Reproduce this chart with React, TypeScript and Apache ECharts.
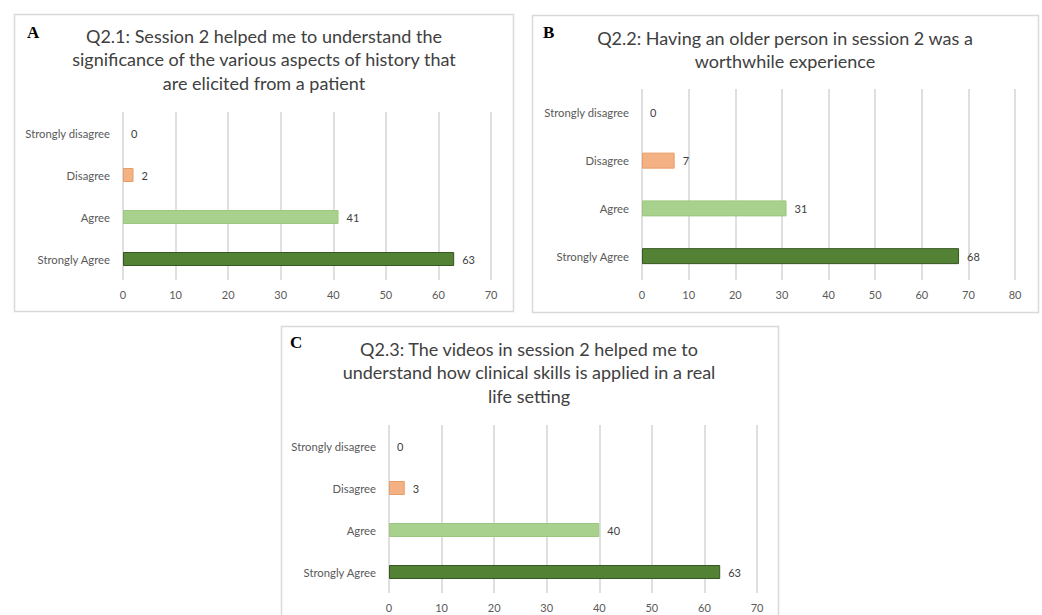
import React, { useEffect, useRef } from "react";
import * as echarts from "echarts";

// Response categories, listed bottom-to-top as drawn on the category axis
const categories = ["Strongly Agree", "Agree", "Disagree", "Strongly disagree"];

// Responses per question (same order as categories)
const q21Values = [63, 41, 2, 0];
const q22Values = [68, 31, 7, 0];
const q23Values = [63, 40, 3, 0];

// Axis maxima
const q21Max = 70;
const q22Max = 80;
const q23Max = 70;

const q21Title =
  "Q2.1: Session 2 helped me to understand the\nsignificance of the various aspects of history that\nare elicited from a patient";
const q22Title = "Q2.2: Having an older person in session 2 was a\nworthwhile experience";
const q23Title =
  "Q2.3: The videos in session 2 helped me to\nunderstand how clinical skills is applied in a real\nlife setting";

const panelLetters = ["A", "B", "C"];

// Fill / border per category (Strongly Agree, Agree, Disagree, Strongly disagree)
const barFills = ["#548235", "#a9d18e", "#f4b183", "#f4b183"];
const barBorders = ["#385723", "#9cc77f", "#e89c66", "#e89c66"];

const FONT = "Lato, 'Open Sans', sans-serif";
const GRID_COLOR = "#d4d4d4";
const LABEL_COLOR = "#595959";

type Panel = {
  values: number[];
  max: number;
  title: string;
  letter: string;
  box: { x: number; y: number; w: number; h: number };
  grid: { left: number; top: number; width: number; height: number };
  titleX: number;
  titleY: number;
  letterX: number;
  letterY: number;
  barWidth: number;
};

const panels: Panel[] = [
  {
    values: q21Values,
    max: q21Max,
    title: q21Title,
    letter: panelLetters[0],
    box: { x: 14.5, y: 14.5, w: 499, h: 297 },
    grid: { left: 123, top: 112, width: 368, height: 168 },
    titleX: 264,
    titleY: 24,
    letterX: 27,
    letterY: 24,
    barWidth: 14,
  },
  {
    values: q22Values,
    max: q22Max,
    title: q22Title,
    letter: panelLetters[1],
    box: { x: 532.5, y: 15.5, w: 506, h: 297 },
    grid: { left: 642, top: 89, width: 373, height: 191 },
    titleX: 785,
    titleY: 26,
    letterX: 543,
    letterY: 24,
    barWidth: 16,
  },
  {
    values: q23Values,
    max: q23Max,
    title: q23Title,
    letter: panelLetters[2],
    box: { x: 281.5, y: 326.5, w: 497, h: 300 },
    grid: { left: 389, top: 425, width: 368, height: 168 },
    titleX: 529,
    titleY: 337,
    letterX: 290,
    letterY: 334,
    barWidth: 14,
  },
];

export default function App() {
  const ref = useRef<HTMLDivElement>(null);

  useEffect(() => {
    if (!ref.current) return;
    const chart = echarts.init(ref.current, undefined, { renderer: "svg" });

    const graphic: any[] = [];
    panels.forEach((p) => {
      graphic.push({
        type: "rect",
        shape: { x: p.box.x, y: p.box.y, width: p.box.w, height: p.box.h },
        style: { fill: "#ffffff", stroke: "#d9d9d9", lineWidth: 1.5 },
        z: -10,
        silent: true,
      });
      graphic.push({
        type: "text",
        x: p.letterX,
        y: p.letterY,
        style: {
          text: p.letter,
          font: "bold 17px 'Liberation Serif', 'Times New Roman', serif",
          fill: "#000000",
        },
        z: 10,
      });
      graphic.push({
        type: "text",
        x: p.titleX,
        y: p.titleY,
        style: {
          text: p.title,
          font: `18px ${FONT}`,
          fill: "#404040",
          align: "center",
          verticalAlign: "top",
          lineHeight: 23.5,
        },
        z: 10,
      });
    });

    chart.setOption({
      animation: false,
      backgroundColor: "#ffffff",
      graphic,
      grid: panels.map((p) => ({ ...p.grid, containLabel: false })),
      xAxis: panels.map((p, i) => ({
        type: "value",
        gridIndex: i,
        min: 0,
        max: p.max,
        interval: 10,
        axisLine: { show: false },
        axisTick: { show: false },
        splitLine: { show: true, lineStyle: { color: GRID_COLOR, width: 1.5 } },
        axisLabel: {
          color: LABEL_COLOR,
          fontFamily: FONT,
          fontSize: 11,
          margin: 9,
        },
      })),
      yAxis: panels.map((_, i) => ({
        type: "category",
        gridIndex: i,
        data: categories,
        axisLine: { show: false },
        axisTick: { show: false },
        axisLabel: {
          color: LABEL_COLOR,
          fontFamily: FONT,
          fontSize: 11.3,
          margin: 13,
        },
      })),
      series: panels.map((p, i) => ({
        type: "bar",
        xAxisIndex: i,
        yAxisIndex: i,
        barWidth: p.barWidth,
        data: p.values.map((v, j) => ({
          value: v,
          itemStyle: {
            color: barFills[j],
            borderColor: barBorders[j],
            borderWidth: v === 0 ? 0 : 1,
          },
        })),
        label: {
          show: true,
          position: "right",
          distance: 8,
          color: "#404040",
          fontFamily: FONT,
          fontSize: 11,
        },
      })),
    });

    return () => chart.dispose();
  }, []);

  return (
    <div
      ref={ref}
      style={{ position: "fixed", left: 0, top: 0, width: 1042, height: 615 }}
    />
  );
}
